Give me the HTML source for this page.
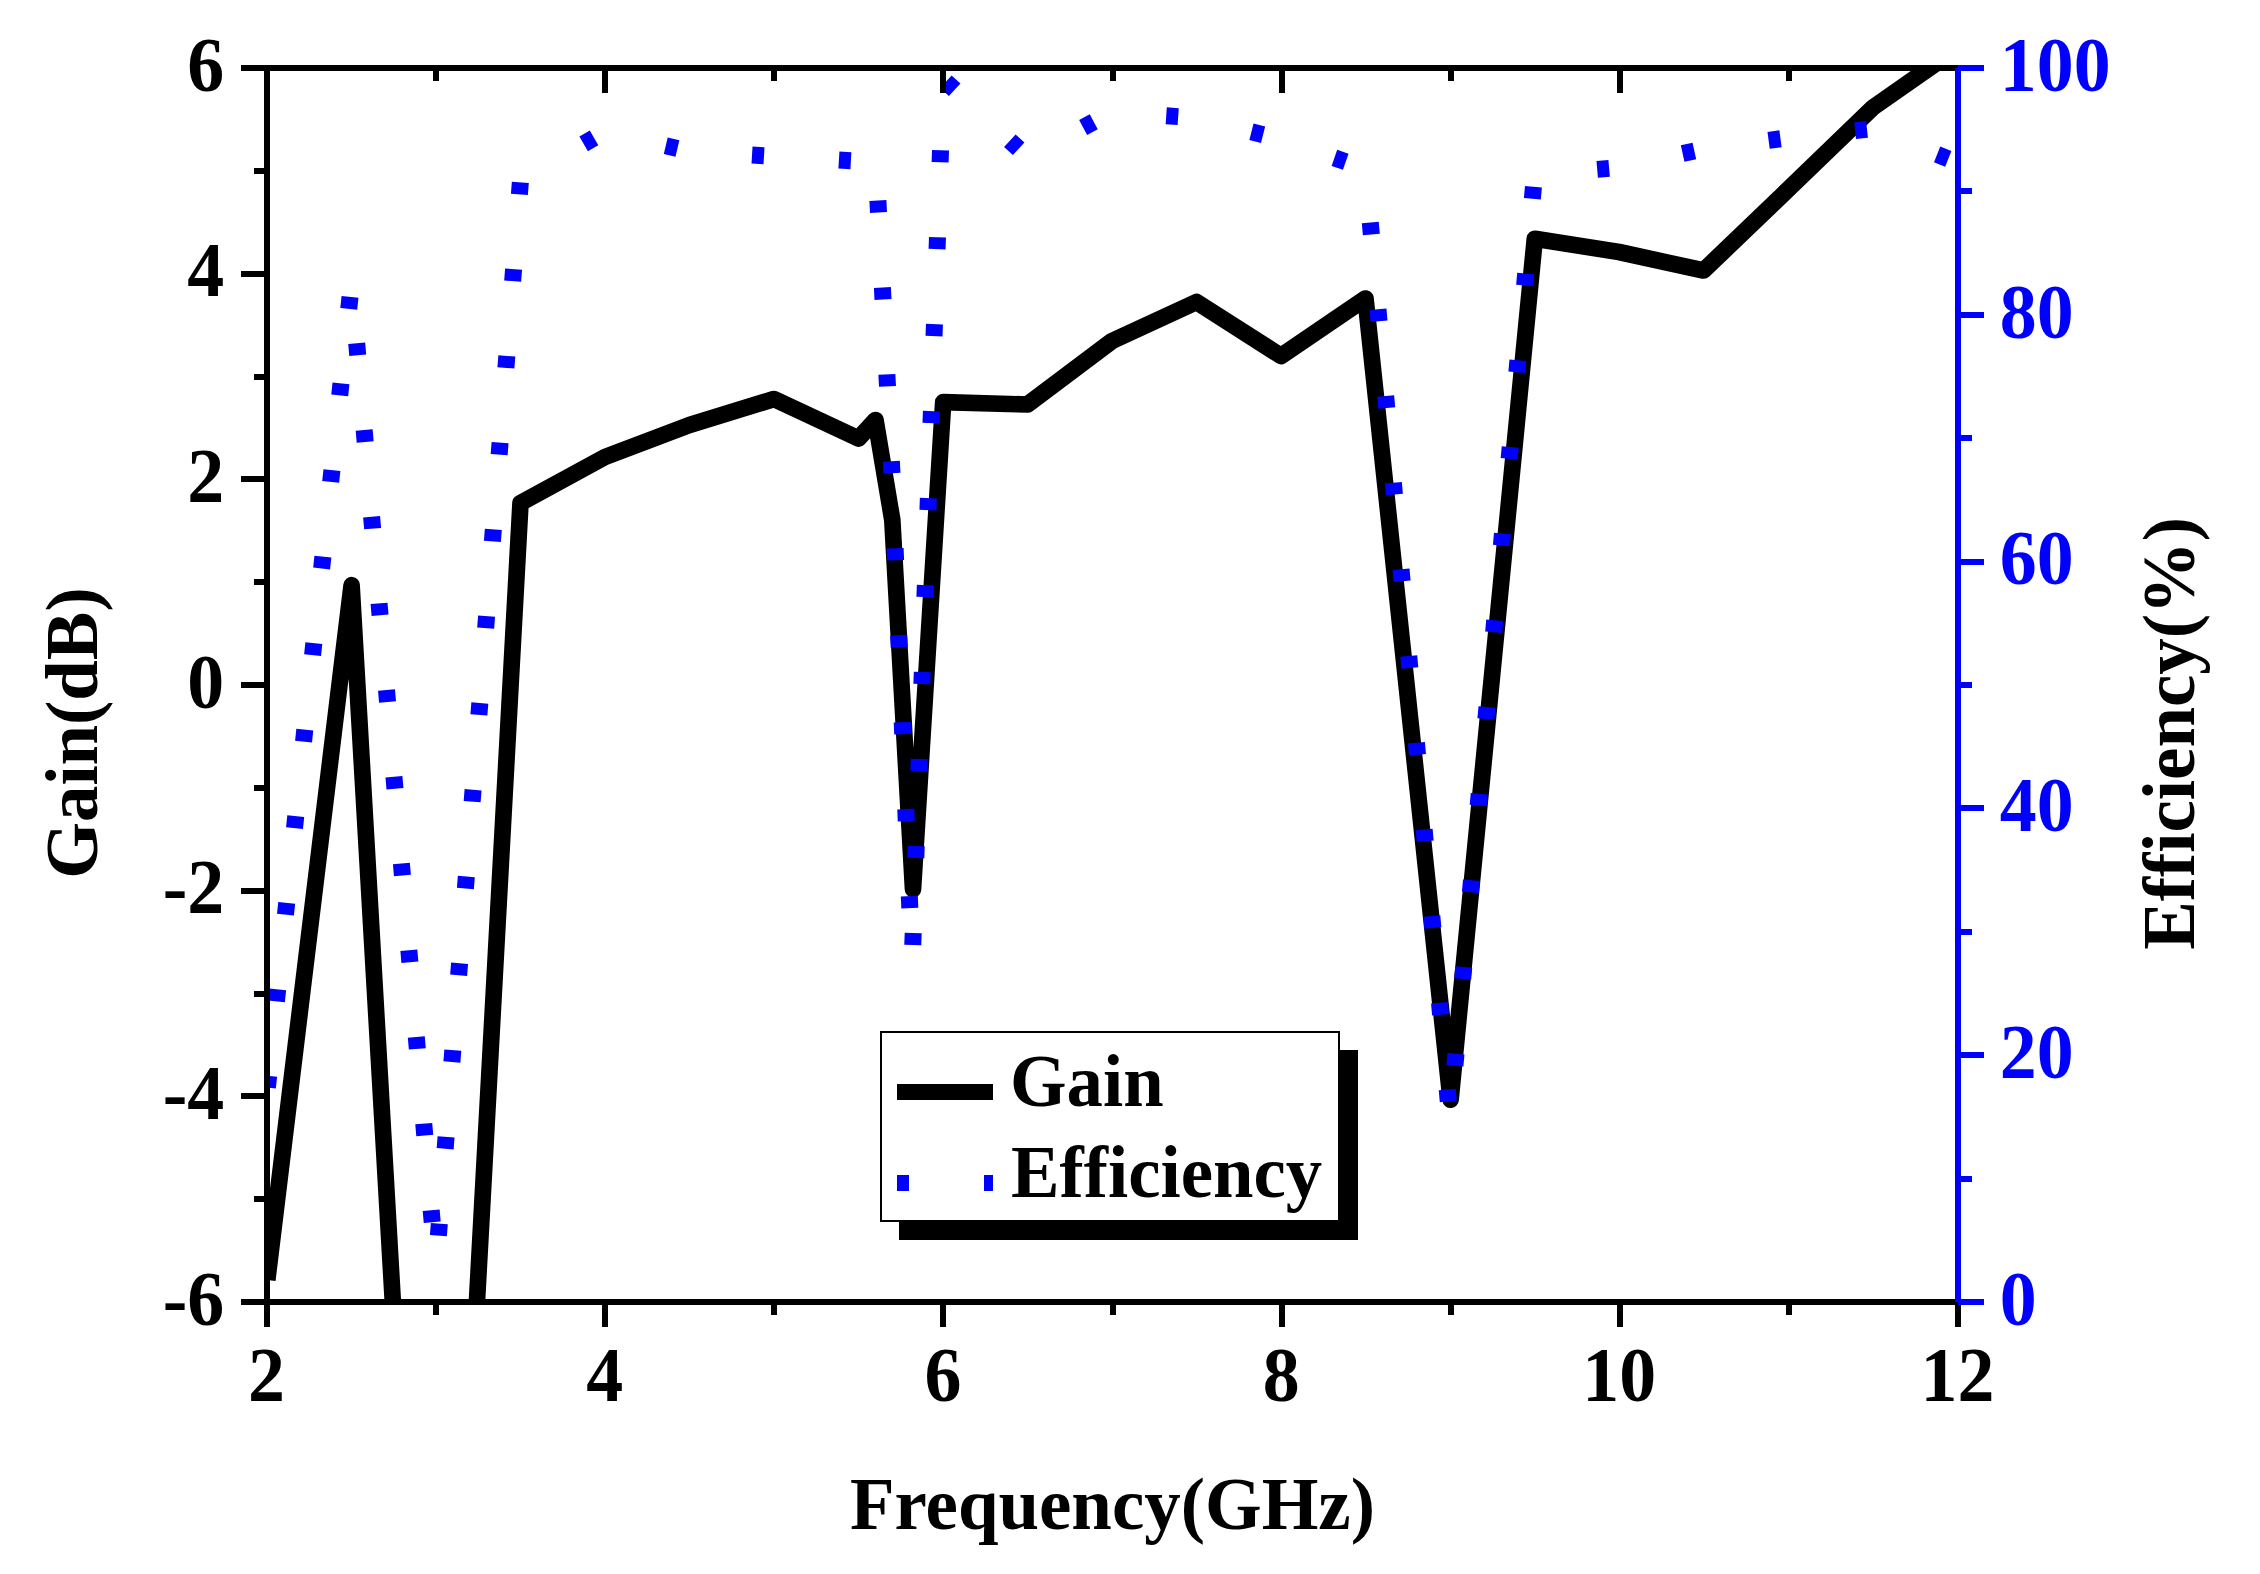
<!DOCTYPE html>
<html lang="en"><head><meta charset="utf-8"><title>Gain and Efficiency versus Frequency</title>
<style>
html,body{margin:0;padding:0;background:#fff;}
body{width:2260px;height:1574px;overflow:hidden;}
svg{display:block;}
text{font-family:"Liberation Serif","Times New Roman",Times,serif;font-weight:bold;font-size:75px;}
.k{fill:#000;} .b{fill:#00f;}
</style></head><body>
<svg width="2260" height="1574" viewBox="0 0 2260 1574">
<rect width="2260" height="1574" fill="#fff"/>
<defs><clipPath id="plot"><rect x="267" y="68" width="1691" height="1234"/></clipPath></defs>

<g clip-path="url(#plot)" fill="none">
<polyline points="267.3,1280.0 351.6,585.2 436.0,2052.0 520.5,503.0 605.0,457.0 689.5,425.0 774.0,399.0 858.5,438.5 875.5,420.0 892.3,520.0 913.0,889.3 943.2,402.2 1027.5,404.5 1112.0,341.0 1196.5,302.0 1281.0,356.0 1365.5,298.5 1450.6,1099.7 1534.8,238.8 1619.0,252.0 1703.6,270.5 1788.0,189.5 1873.0,107.5 1957.5,48.4" stroke="#000" stroke-width="16.67" stroke-linejoin="round" stroke-linecap="butt"/>
<polyline points="267.4,1087.5 351.5,282.7 436.0,1266.3 520.5,180.2 605.0,131.6 689.5,151.4 774.0,156.4 858.5,161.2 875.4,152.3 892.3,479.4 912.1,964.0 943.0,79.1 1027.5,157.0 1112.0,112.1 1196.5,117.9 1281.0,139.3 1365.5,168.7 1450.0,1120.9 1534.5,174.8 1619.0,167.5 1703.5,149.0 1788.0,137.8 1872.5,128.8 1957.0,162.3" stroke="#00f" stroke-width="17.00" stroke-linejoin="miter" stroke-dasharray="12 75.029" stroke-dashoffset="0.35"/>
</g>
<g shape-rendering="crispEdges">
<rect class="k" x="241" y="65" width="1717" height="6"/>
<rect class="k" x="241" y="1299" width="1717" height="6"/>
<rect class="k" x="264" y="65" width="6" height="1262"/>
<rect class="k" x="241" y="1299.0" width="24" height="6"/>
<rect class="k" x="254" y="1196.2" width="11" height="6"/>
<rect class="k" x="241" y="1093.3" width="24" height="6"/>
<rect class="k" x="254" y="990.5" width="11" height="6"/>
<rect class="k" x="241" y="887.7" width="24" height="6"/>
<rect class="k" x="254" y="784.8" width="11" height="6"/>
<rect class="k" x="241" y="682.0" width="24" height="6"/>
<rect class="k" x="254" y="579.2" width="11" height="6"/>
<rect class="k" x="241" y="476.3" width="24" height="6"/>
<rect class="k" x="254" y="373.5" width="11" height="6"/>
<rect class="k" x="241" y="270.7" width="24" height="6"/>
<rect class="k" x="254" y="167.8" width="11" height="6"/>
<rect class="k" x="241" y="65.0" width="24" height="6"/>
<rect class="k" x="264.0" y="1304" width="6" height="23"/>
<rect class="k" x="433.1" y="1304" width="6" height="11"/>
<rect class="k" x="433.1" y="70" width="6" height="11"/>
<rect class="k" x="602.2" y="1304" width="6" height="23"/>
<rect class="k" x="602.2" y="70" width="6" height="23"/>
<rect class="k" x="771.3" y="1304" width="6" height="11"/>
<rect class="k" x="771.3" y="70" width="6" height="11"/>
<rect class="k" x="940.4" y="1304" width="6" height="23"/>
<rect class="k" x="940.4" y="70" width="6" height="23"/>
<rect class="k" x="1109.5" y="1304" width="6" height="11"/>
<rect class="k" x="1109.5" y="70" width="6" height="11"/>
<rect class="k" x="1278.6" y="1304" width="6" height="23"/>
<rect class="k" x="1278.6" y="70" width="6" height="23"/>
<rect class="k" x="1447.7" y="1304" width="6" height="11"/>
<rect class="k" x="1447.7" y="70" width="6" height="11"/>
<rect class="k" x="1616.8" y="1304" width="6" height="23"/>
<rect class="k" x="1616.8" y="70" width="6" height="23"/>
<rect class="k" x="1785.9" y="1304" width="6" height="11"/>
<rect class="k" x="1785.9" y="70" width="6" height="11"/>
<rect class="k" x="1955.0" y="1304" width="6" height="23"/>
<rect class="b" x="1955" y="68" width="6" height="1234"/>
<rect class="b" x="1958" y="1299.0" width="26" height="6"/>
<rect class="b" x="1958" y="1175.6" width="14" height="6"/>
<rect class="b" x="1958" y="1052.2" width="26" height="6"/>
<rect class="b" x="1958" y="928.8" width="14" height="6"/>
<rect class="b" x="1958" y="805.4" width="26" height="6"/>
<rect class="b" x="1958" y="682.0" width="14" height="6"/>
<rect class="b" x="1958" y="558.6" width="26" height="6"/>
<rect class="b" x="1958" y="435.2" width="14" height="6"/>
<rect class="b" x="1958" y="311.8" width="26" height="6"/>
<rect class="b" x="1958" y="188.4" width="14" height="6"/>
<rect class="b" x="1958" y="65.0" width="26" height="6"/>
</g>
<text class="k" transform="translate(224.3 1324.7) scale(0.985 1.035)" text-anchor="end">-6</text>
<text class="k" transform="translate(224.3 1119.0) scale(0.985 1.035)" text-anchor="end">-4</text>
<text class="k" transform="translate(224.3 913.4) scale(0.985 1.035)" text-anchor="end">-2</text>
<text class="k" transform="translate(224.3 707.7) scale(0.985 1.035)" text-anchor="end">0</text>
<text class="k" transform="translate(224.3 502.0) scale(0.985 1.035)" text-anchor="end">2</text>
<text class="k" transform="translate(224.3 296.4) scale(0.985 1.035)" text-anchor="end">4</text>
<text class="k" transform="translate(224.3 90.7) scale(0.985 1.035)" text-anchor="end">6</text>
<text class="k" transform="translate(266.5 1401) scale(0.985 1.035)" text-anchor="middle">2</text>
<text class="k" transform="translate(604.7 1401) scale(0.985 1.035)" text-anchor="middle">4</text>
<text class="k" transform="translate(942.9 1401) scale(0.985 1.035)" text-anchor="middle">6</text>
<text class="k" transform="translate(1281.1 1401) scale(0.985 1.035)" text-anchor="middle">8</text>
<text class="k" transform="translate(1619.3 1401) scale(0.985 1.035)" text-anchor="middle">10</text>
<text class="k" transform="translate(1957.5 1401) scale(0.985 1.035)" text-anchor="middle">12</text>
<text class="b" transform="translate(1999.8 1324.7) scale(0.985 1.035)">0</text>
<text class="b" transform="translate(1999.8 1077.9) scale(0.985 1.035)">20</text>
<text class="b" transform="translate(1999.8 831.1) scale(0.985 1.035)">40</text>
<text class="b" transform="translate(1999.8 584.3) scale(0.985 1.035)">60</text>
<text class="b" transform="translate(1999.8 337.5) scale(0.985 1.035)">80</text>
<text class="b" transform="translate(1999.8 90.7) scale(0.985 1.035)">100</text>
<text class="k" transform="translate(1112.5 1529) scale(0.972 1)" text-anchor="middle">Frequency(GHz)</text>
<text class="k" transform="translate(97.3 733) rotate(-90) scale(0.971 1)" text-anchor="middle">Gain(dB)</text>
<text class="k" transform="translate(2194.2 733.4) rotate(-90) scale(0.971 1)" text-anchor="middle">Efficiency(%)</text>
<g shape-rendering="crispEdges">
<rect class="k" x="899" y="1050" width="459" height="190"/>
<rect x="881" y="1032" width="458" height="189" fill="#fff" stroke="#000" stroke-width="2"/>
<rect class="k" x="897" y="1084" width="96" height="16"/>
<rect class="b" x="897" y="1175" width="12" height="16"/>
<rect class="b" x="984" y="1175" width="9" height="16"/>
</g>
<text class="k" transform="translate(1010 1105.5) scale(0.970 1)">Gain</text>
<text class="k" transform="translate(1011 1196.8) scale(0.970 1)">Efficiency</text>
</svg></body></html>
